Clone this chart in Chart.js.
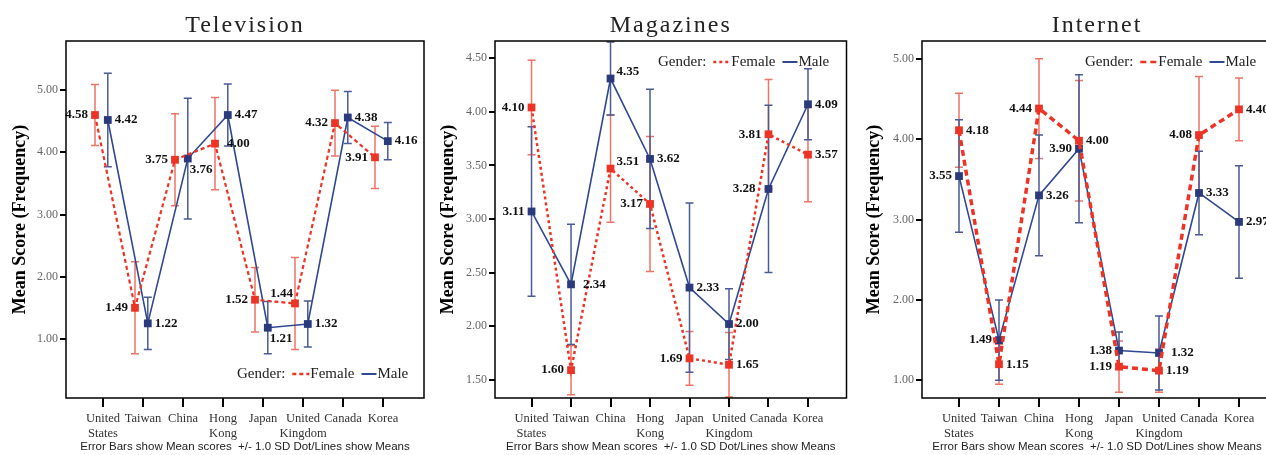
<!DOCTYPE html>
<html>
<head>
<meta charset="utf-8">
<script src="https://cdn.jsdelivr.net/npm/chart.js@4.4.1/dist/chart.umd.min.js"></script>
<style>
  body { margin: 0; background: #fff; overflow: hidden; width: 1266px; height: 455px; position: relative; }
  canvas { position: absolute; top: 0; }
</style>
</head>
<body>
<canvas id="tv" width="430" height="455" style="left:0"></canvas>
<canvas id="mag" width="422" height="455" style="left:430px"></canvas>
<canvas id="net" width="430" height="455" style="left:852px"></canvas>
<script>
// categories
const countries = [['United', 'States'], 'Taiwan', 'China', ['Hong', 'Kong'], 'Japan', ['United', 'Kingdom'], 'Canada', 'Korea'];

// Television
const tvFemale = [4.60, 1.50, 3.88, 4.14, 1.63, 1.57, 4.47, 3.92];
const tvFemaleSD = [0.49, 0.74, 0.74, 0.74, 0.52, 0.74, 0.53, 0.50];
const tvMale = [4.52, 1.25, 3.90, 4.60, 1.18, 1.24, 4.56, 4.18];
const tvMaleSD = [0.75, 0.42, 0.97, 0.50, 0.42, 0.37, 0.42, 0.30];
const tvFemaleText = ['4.58', '1.49', '3.75', '4.00', '1.52', '1.44', '4.32', '3.91'];
const tvMaleText = ['4.42', '1.22', '3.76', '4.47', '1.21', '1.32', '4.38', '4.16'];
const tvTicks = [1, 2, 3, 4, 5];

// Magazines
const magFemale = [4.04, 1.59, 3.47, 3.14, 1.70, 1.64, 3.79, 3.60];
const magFemaleSD = [0.44, 0.23, 0.50, 0.63, 0.25, 0.30, 0.51, 0.44];
const magMale = [3.07, 2.39, 4.31, 3.56, 2.36, 2.02, 3.28, 4.07];
const magMaleSD = [0.79, 0.56, 0.34, 0.65, 0.79, 0.33, 0.78, 0.33];
const magFemaleText = ['4.10', '1.60', '3.51', '3.17', '1.69', '1.65', '3.81', '3.57'];
const magMaleText = ['3.11', '2.34', '4.35', '3.62', '2.33', '2.00', '3.28', '4.09'];
const magTicks = [1.5, 2, 2.5, 3, 3.5, 4, 4.5];

// Internet
const netFemale = [4.11, 1.20, 4.38, 3.98, 1.17, 1.12, 4.05, 4.37];
const netFemaleSD = [0.46, 0.25, 0.62, 0.75, 0.32, 0.27, 0.73, 0.39];
const netMale = [3.54, 1.50, 3.30, 3.88, 1.37, 1.34, 3.33, 2.97];
const netMaleSD = [0.70, 0.50, 0.75, 0.92, 0.23, 0.46, 0.52, 0.70];
const netFemaleText = ['4.18', '1.15', '4.44', '4.00', '1.19', '1.19', '4.08', '4.40'];
const netMaleText = ['3.55', '1.49', '3.26', '3.90', '1.38', '1.32', '3.33', '2.97'];
const netTicks = [1, 2, 3, 4, 5];

// where each value label sits next to its marker
const tvFemalePlace = ['l', 'l', 'l', 'R', 'l', 'a', 'l', 'l'];
const tvMalePlace = ['r', 'r', 'br', 'r', 'br', 'r', 'r', 'r'];
const magFemalePlace = ['l', 'l', 'ar', 'l', 'l', 'r', 'l', 'r'];
const magMalePlace = ['l', 'R', 'ar', 'r', 'r', 'r', 'L', 'r'];
const netFemalePlace = ['r', 'r', 'l', 'r', 'l', 'r', 'l', 'r'];
const netMalePlace = ['l', 'l', 'r', 'l', 'l', 'R', 'r', 'r'];

const RED = '#ec3426', RED_BAR = '#f07365', BLUE = '#2f4890', BLUE_MK = '#2b3a7c', BLUE_BAR = '#4a5b95';
const SERIF = '"Liberation Serif", "DejaVu Serif", serif';
const SANS = '"Liberation Sans", Arial, sans-serif';

Chart.defaults.font.family = SERIF;

const placeOffsets = {
  l: [-7, 0, 'right'], L: [-13, 0, 'right'], r: [7, 0, 'left'], R: [12, 0, 'left'],
  ar: [6, -7, 'left'], br: [2, 11, 'left'], a: [-2, -10, 'right']
};

const panelPlugin = {
  id: 'panel',
  beforeDatasetsDraw(chart) {
    const ctx = chart.ctx, xs = chart.scales.x, ys = chart.scales.y;
    chart.data.datasets.forEach(d => {
      ctx.save();
      ctx.strokeStyle = d.barColor;
      ctx.lineWidth = 1.5;
      d.data.forEach((p, i) => {
        const x = xs.getPixelForValue(p.x);
        const y1 = ys.getPixelForValue(p.y + d.sd[i]);
        const y2 = ys.getPixelForValue(p.y - d.sd[i]);
        ctx.beginPath();
        ctx.moveTo(x, y1); ctx.lineTo(x, y2);
        ctx.moveTo(x - 4, y1); ctx.lineTo(x + 4, y1);
        ctx.moveTo(x - 4, y2); ctx.lineTo(x + 4, y2);
        ctx.stroke();
      });
      ctx.restore();
    });
  },
  afterDatasetsDraw(chart) {
    const ctx = chart.ctx, xs = chart.scales.x, ys = chart.scales.y;
    ctx.save();
    ctx.font = 'bold 13px ' + SERIF;
    ctx.fillStyle = '#111';
    ctx.textBaseline = 'middle';
    chart.data.datasets.forEach(d => {
      d.data.forEach((p, i) => {
        const o = placeOffsets[d.place[i]];
        ctx.textAlign = o[2];
        ctx.fillText(d.text[i], xs.getPixelForValue(p.x) + o[0], ys.getPixelForValue(p.y) + o[1]);
      });
    });
    ctx.restore();
  },
  afterDraw(chart, args, opts) {
    const ctx = chart.ctx, a = chart.chartArea;
    ctx.save();
    // frame
    ctx.strokeStyle = '#000';
    ctx.lineWidth = 1.5;
    ctx.strokeRect(a.left, a.top, a.right - a.left, a.bottom - a.top);
    // title
    ctx.fillStyle = '#222';
    ctx.font = '24px ' + SERIF;
    ctx.letterSpacing = '2px';
    ctx.textAlign = 'center';
    ctx.textBaseline = 'alphabetic';
    ctx.fillText(opts.title, (a.left + a.right) / 2, 32);
    ctx.letterSpacing = '0px';
    // footnote
    ctx.font = '11.5px ' + SANS;
    ctx.fillStyle = '#222';
    ctx.textBaseline = 'middle';
    ctx.fillText('Error Bars show Mean scores  +/- 1.0 SD Dot/Lines show Means', (a.left + a.right) / 2, 447);
    // legend
    ctx.font = '15px ' + SERIF;
    ctx.textAlign = 'left';
    ctx.fillStyle = '#222';
    let x = opts.legend.x;
    const y = opts.legend.y;
    ctx.fillText('Gender:', x, y);
    x += ctx.measureText('Gender:').width + 7;
    ctx.strokeStyle = RED; ctx.lineWidth = 2.5; ctx.setLineDash(opts.femaleDash);
    ctx.beginPath(); ctx.moveTo(x, y); ctx.lineTo(x + 17, y); ctx.stroke();
    x += 18;
    ctx.fillText('Female', x, y);
    x += ctx.measureText('Female').width + 7;
    ctx.strokeStyle = BLUE; ctx.lineWidth = 2; ctx.setLineDash([]);
    ctx.beginPath(); ctx.moveTo(x, y); ctx.lineTo(x + 15, y); ctx.stroke();
    x += 16;
    ctx.fillText('Male', x, y);
    ctx.restore();
  }
};
Chart.register(panelPlugin);

function makePanel(id, p) {
  const series = (label, values, sd, text, place, color, markColor, barColor, width, dash, dx) => ({
    label, sd, text, place, barColor,
    data: values.map((v, i) => ({ x: i + dx, y: v })),
    borderColor: color, borderWidth: width, borderDash: dash,
    pointStyle: 'rect', pointRadius: 5.5, pointHoverRadius: 5.5,
    pointBackgroundColor: markColor, pointBorderWidth: 0,
    fill: false, tension: 0, clip: false
  });
  return new Chart(document.getElementById(id), {
    type: 'line',
    data: {
      datasets: [
        series('Female', p.female, p.femaleSD, p.femaleText, p.femalePlace, RED, RED, RED_BAR, p.femaleWidth, p.femaleDash, p.dxF),
        series('Male', p.male, p.maleSD, p.maleText, p.malePlace, BLUE, BLUE_MK, BLUE_BAR, 1.6, [], p.dxM)
      ]
    },
    options: {
      responsive: false,
      animation: false,
      layout: { padding: { top: 41, right: p.padRight, left: 0, bottom: 0 } },
      plugins: {
        legend: { display: false },
        tooltip: { enabled: false },
        panel: { title: p.title, legend: p.legend, femaleDash: p.femaleDash }
      },
      scales: {
        x: {
          type: 'linear', min: -0.925, max: p.xMax,
          afterBuildTicks: s => { s.ticks = countries.map((c, i) => ({ value: i })); },
          afterFit: s => { s.height = 57; },
          ticks: {
            callback: v => countries[v], autoSkip: false, maxRotation: 0,
            font: { family: SERIF, size: 12.5 }, color: '#333', padding: 4
          },
          grid: { drawOnChartArea: false, tickLength: 9, color: '#000', lineWidth: 2 },
          border: { display: false }
        },
        y: {
          min: p.yMin, max: p.yMax,
          afterBuildTicks: s => { s.ticks = p.yTicks.map(v => ({ value: v })); },
          afterFit: s => { s.width = p.yWidth; },
          ticks: {
            callback: v => v.toFixed(2),
            font: { family: SERIF, size: 12 }, color: '#666', padding: 2
          },
          grid: { drawOnChartArea: false, tickLength: 6, color: '#000', lineWidth: 2 },
          border: { display: false },
          title: {
            display: true, text: 'Mean Score (Frequency)', color: '#000',
            font: { family: SERIF, size: 18, weight: 'bold' }, padding: { top: p.titlePad, bottom: 0 }
          }
        }
      }
    }
  });
}

makePanel('tv', {
  title: 'Television',
  female: tvFemale, femaleSD: tvFemaleSD, femaleText: tvFemaleText, femalePlace: tvFemalePlace,
  male: tvMale, maleSD: tvMaleSD, maleText: tvMaleText, malePlace: tvMalePlace,
  femaleWidth: 2.2, femaleDash: [4, 3], dxF: -0.2, dxM: 0.12,
  yMin: 0.05, yMax: 5.79, yTicks: tvTicks, yWidth: 66, titlePad: 10,
  xMax: 8.025, padRight: 6, legend: { x: 237, y: 374 }
});
makePanel('mag', {
  title: 'Magazines',
  female: magFemale, femaleSD: magFemaleSD, femaleText: magFemaleText, femalePlace: magFemalePlace,
  male: magMale, maleSD: magMaleSD, maleText: magMaleText, malePlace: magMalePlace,
  femaleWidth: 2.5, femaleDash: [3, 3], dxF: 0, dxM: 0,
  yMin: 1.33, yMax: 4.66, yTicks: magTicks, yWidth: 65, titlePad: 8,
  xMax: 7.975, padRight: 1, legend: { x: 228, y: 62 }
});
makePanel('net', {
  title: 'Internet',
  female: netFemale, femaleSD: netFemaleSD, femaleText: netFemaleText, femalePlace: netFemalePlace,
  male: netMale, maleSD: netMaleSD, maleText: netMaleText, malePlace: netMalePlace,
  femaleWidth: 3.5, femaleDash: [6, 4], dxF: 0, dxM: 0,
  yMin: 0.78, yMax: 5.22, yTicks: netTicks, yWidth: 70, titlePad: 12,
  xMax: 7.825, padRight: 10, legend: { x: 233, y: 62 }
});
</script>
</body>
</html>
